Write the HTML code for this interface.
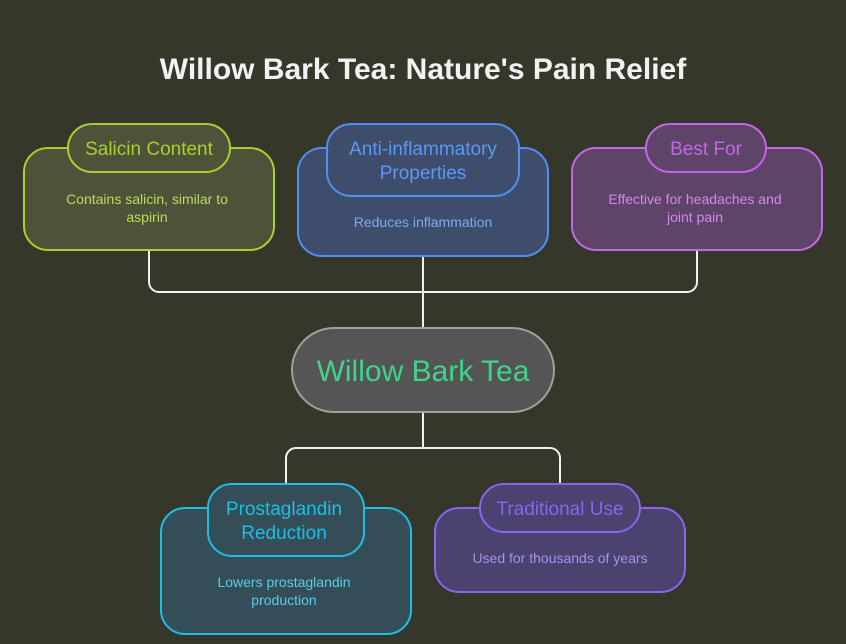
<!DOCTYPE html>
<html><head><meta charset="utf-8"><style>
html,body{margin:0;padding:0;background:#35372a;}
svg{display:block;font-family:"Liberation Sans",sans-serif;}
</style></head><body>
<svg width="846" height="644" viewBox="0 0 846 644" xmlns="http://www.w3.org/2000/svg">
<rect width="846" height="644" fill="#35372a"/>
<text x="423" y="79" text-anchor="middle" font-size="30" font-weight="bold" fill="#f2f2f2">Willow Bark Tea: Nature's Pain Relief</text>

<g fill="none" stroke="#f0f0f0" stroke-width="2">
<path d="M149 250 V282 a10 10 0 0 0 10 10 H687 a10 10 0 0 0 10 -10 V250"/>
<path d="M423 256 V328"/>
<path d="M423 412 V448"/>
<path d="M286 486 V458 a10 10 0 0 1 10 -10 H550 a10 10 0 0 1 10 10 V486"/>
</g>

<!-- Salicin -->
<rect x="24" y="148" width="250" height="102" rx="24" fill="#4d5239" stroke="#a6d12e" stroke-width="2"/>
<rect x="68" y="124" width="162" height="48" rx="24" fill="#4d5239" stroke="#a6d12e" stroke-width="2"/>
<text x="149" y="155" text-anchor="middle" font-size="19" fill="#a6d12e">Salicin Content</text>
<text x="147" y="204" text-anchor="middle" font-size="14" fill="#b9de5a">Contains salicin, similar to</text>
<text x="147" y="222" text-anchor="middle" font-size="14" fill="#b9de5a">aspirin</text>

<!-- Anti-inflammatory -->
<rect x="298" y="148" width="250" height="108" rx="24" fill="#3e4d6b" stroke="#4f8ff0" stroke-width="2"/>
<rect x="327" y="124" width="192" height="72" rx="24" fill="#3e4d6b" stroke="#4f8ff0" stroke-width="2"/>
<text x="423" y="155" text-anchor="middle" font-size="19" fill="#5a98f2">Anti-inflammatory</text>
<text x="423" y="179" text-anchor="middle" font-size="19" fill="#5a98f2">Properties</text>
<text x="423" y="227" text-anchor="middle" font-size="14" fill="#7fa9ec">Reduces inflammation</text>

<!-- Best For -->
<rect x="572" y="148" width="250" height="102" rx="24" fill="#5e4468" stroke="#c466e8" stroke-width="2"/>
<rect x="646" y="124" width="120" height="48" rx="24" fill="#5e4468" stroke="#c466e8" stroke-width="2"/>
<text x="706" y="155" text-anchor="middle" font-size="19" fill="#c466e8">Best For</text>
<text x="695" y="204" text-anchor="middle" font-size="14" fill="#d08ae8">Effective for headaches and</text>
<text x="695" y="222" text-anchor="middle" font-size="14" fill="#d08ae8">joint pain</text>

<!-- Center -->
<rect x="292" y="328" width="262" height="84" rx="42" fill="#555555" stroke="#a0a0a0" stroke-width="2"/>
<text x="423" y="381" text-anchor="middle" font-size="30" fill="#3fd48c">Willow Bark Tea</text>

<!-- Prostaglandin -->
<rect x="161" y="508" width="250" height="126" rx="24" fill="#344e57" stroke="#1ebde8" stroke-width="2"/>
<rect x="208" y="484" width="156" height="72" rx="24" fill="#344e57" stroke="#1ebde8" stroke-width="2"/>
<text x="284" y="515" text-anchor="middle" font-size="19" fill="#1ebde8">Prostaglandin</text>
<text x="284" y="539" text-anchor="middle" font-size="19" fill="#1ebde8">Reduction</text>
<text x="284" y="587" text-anchor="middle" font-size="14" fill="#5ccbee">Lowers prostaglandin</text>
<text x="284" y="605" text-anchor="middle" font-size="14" fill="#5ccbee">production</text>

<!-- Traditional -->
<rect x="435" y="508" width="250" height="84" rx="24" fill="#4b4270" stroke="#8a64ee" stroke-width="2"/>
<rect x="480" y="484" width="160" height="48" rx="24" fill="#4b4270" stroke="#8a64ee" stroke-width="2"/>
<text x="560" y="515" text-anchor="middle" font-size="19" fill="#8a64ee">Traditional Use</text>
<text x="560" y="563" text-anchor="middle" font-size="14" fill="#a890ee">Used for thousands of years</text>
</svg>
</body></html>
